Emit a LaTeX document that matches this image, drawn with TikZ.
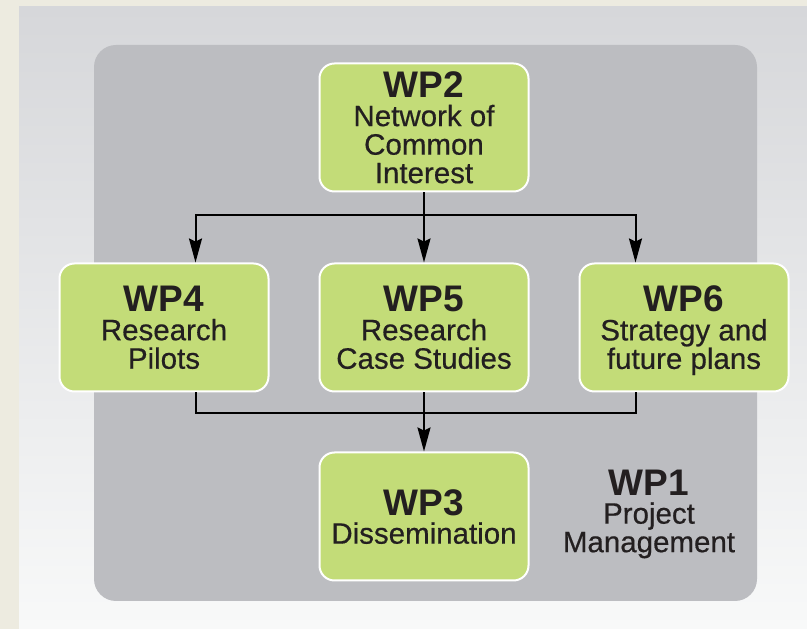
\documentclass[tikz,border=0pt]{standalone}
\usepackage{fontspec}
\setmainfont{Liberation Sans}[UprightFeatures={FakeBold=0.5}]
\usetikzlibrary{positioning,arrows.meta}
\definecolor{pagebg}{HTML}{EDEBE0}
\definecolor{paneltop}{HTML}{D6D7DA}
\definecolor{panelbot}{HTML}{F8F9F9}
\definecolor{wpgray}{HTML}{BCBDC1}
\definecolor{wpgreen}{HTML}{C3DC78}
\definecolor{wptext}{HTML}{231F20}
\newcommand{\wpname}[1]{{\fontsize{37}{30}\selectfont\bfseries #1}}
\tikzset{
        wp_txt/.style = {align=center, inner sep=0pt, text=wptext,
            font=\fontsize{29.5}{28.5}\selectfont},
        wp_box/.style = {wp_txt, rectangle, rounded corners=15pt, fill=wpgreen,
            draw=white, line width=2pt, minimum width=209pt, minimum height=128pt,
            text depth=0pt},
        wp_link/.style = {black, line width=2pt},
        wp_arr/.style = {wp_link, -{Stealth[length=24pt, width=13pt, inset=3pt]}}
    }

\begin{document}
\begin{tikzpicture}[x=1pt, y=1pt]
    % background and project frame
    \fill [pagebg] (0,0) rectangle (807,629);
    \shade [top color=paneltop, bottom color=panelbot] (19,0) rectangle (807,622);
    \fill [wpgray, rounded corners=22pt] (94,28) rectangle (757,584);

    % work packages
    \node [wp_box] (wp5) at (424,301.5) {\wpname{WP5}\\Research\\Case Studies};
    \node [wp_box, above=70pt of wp5] (wp2) {\wpname{WP2}\\Network of\\Common\\Interest};
    \node [wp_box, left=49pt of wp5] (wp4) {\wpname{WP4}\\Research\\Pilots};
    \node [wp_box, right=49pt of wp5] (wp6) {\wpname{WP6}\\Strategy and\\future plans};
    \node [wp_box, below=59pt of wp5] (wp3) {\wpname{WP3}\\Dissemination};
    \node [wp_txt] (wp1) at (649,115) {\wpname{WP1}\\Project\\Management};

    % links
    \coordinate (bus_t) at (424,414);
    \coordinate (bus_b) at (424,216);
    \draw [wp_arr] (wp2.south) -- (wp5.north);
    \draw [wp_arr] (wp2.south) -- (wp2.south |- bus_t) -| ([xshift=31.5pt]wp4.north);
    \draw [wp_arr] (wp2.south) -- (wp2.south |- bus_t) -| ([xshift=-48.5pt]wp6.north);
    \draw [wp_link] ([xshift=31.5pt]wp4.south) |- (bus_b) -| ([xshift=-48.5pt]wp6.south);
    \draw [wp_arr] (wp5.south) -- (wp3.north);
\end{tikzpicture}
\end{document}
